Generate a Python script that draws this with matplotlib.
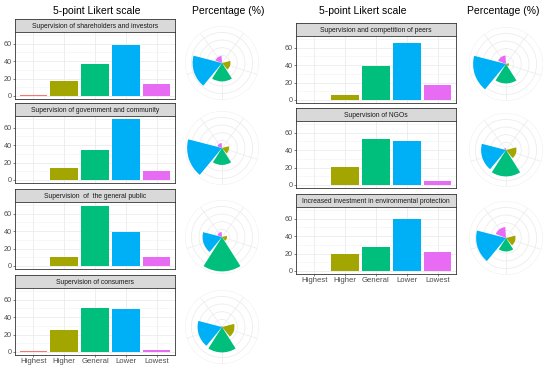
import numpy as np
import matplotlib.pyplot as plt

plt.rcParams['font.family'] = ['Liberation Sans', 'DejaVu Sans']

levels = ['Highest', 'Higher', 'General', 'Lower', 'Lowest']
colors = ['#F8766D', '#A3A500', '#00BF7D', '#00B0F6', '#E76BF3']

left_titles = ['Supervision of shareholders and investors',
               'Supervision of government and community',
               'Supervision  of  the general public',
               'Supervision of consumers']
left_counts = [[1, 17, 37, 59, 14],
               [0, 14, 34, 70, 10],
               [0, 10, 69, 39, 10],
               [1, 25, 51, 49, 2]]

right_titles = ['Supervision and competition of peers',
                'Supervision of NGOs',
                'Increased investment in environmental protection']
right_counts = [[0, 6, 39, 66, 17],
                [0, 21, 53, 50, 4],
                [0, 19, 27, 60, 22]]

W, H = 550, 373
fig = plt.figure(figsize=(W / 100, H / 100), dpi=100)


def rect(x0, y0, x1, y1):
    return [x0 / W, 1 - y1 / H, (x1 - x0) / W, (y1 - y0) / H]


def bar_panel(x0, x1, top, title, counts, bottom_labels):
    # strip
    sa = fig.add_axes(rect(x0, top, x1, top + 13))
    sa.set_facecolor('#D9D9D9')
    sa.set_xticks([])
    sa.set_yticks([])
    for s in sa.spines.values():
        s.set_color('#333333')
        s.set_linewidth(0.6)
    sa.text(0.5, 0.45, title, ha='center', va='center', fontsize=4.9,
            color='#1A1A1A', transform=sa.transAxes)
    # panel
    ax = fig.add_axes(rect(x0, top + 13, x1, top + 80))
    x = np.arange(len(levels))
    ax.bar(x, counts, width=0.9, color=colors, zorder=3)
    ax.set_xlim(-0.6, 4.6)
    ax.set_ylim(-3.5, 73.5)
    ax.set_yticks([0, 20, 40, 60])
    ax.set_yticks([10, 30, 50, 70], minor=True)
    ax.set_xticks(x)
    ax.grid(True, which='major', color='#EBEBEB', linewidth=0.6, zorder=0)
    ax.grid(True, which='minor', axis='y', color='#F2F2F2', linewidth=0.4, zorder=0)
    ax.tick_params(axis='both', which='major', labelsize=5.2, colors='#4D4D4D',
                   length=1.5, width=0.5, pad=1)
    ax.tick_params(which='minor', length=0)
    if bottom_labels:
        ax.set_xticklabels(levels, fontsize=5.6)
    else:
        ax.tick_params(axis='x', length=0, labelbottom=False)
    for s in ax.spines.values():
        s.set_color('#333333')
        s.set_linewidth(0.6)


def rose(cx, cy, counts, r=37):
    ax = fig.add_axes(rect(cx - r, cy - r, cx + r, cy + r), projection='polar')
    ax.set_theta_zero_location('N')
    ax.set_theta_direction(-1)
    step = 2 * np.pi / len(levels)
    theta = step * (np.arange(len(levels)) + 0.5)
    pct = np.array(counts) / sum(counts) * 100
    ax.bar(theta, pct, width=0.9 * step, color=colors, zorder=3)
    ax.set_ylim(0, 58)
    ax.set_yticks([12, 24, 36, 48, 58])
    ax.set_yticklabels([])
    ax.set_xticks(theta)
    ax.set_xticklabels([])
    ax.grid(True, color='#EDEDED', linewidth=0.6)
    ax.spines['polar'].set_visible(False)
    ax.tick_params(length=0)


# left column
fig.text(97 / W, 1 - 11 / H, '5-point Likert scale', ha='center', va='center', fontsize=7.5)
fig.text(228 / W, 1 - 11 / H, 'Percentage (%)', ha='center', va='center', fontsize=7.5)
left_tops = [19, 103, 189, 275]
left_centers = [63, 148, 237, 327]
for i in range(4):
    bar_panel(15, 175, left_tops[i], left_titles[i], left_counts[i], i == 3)
    rose(222, left_centers[i], left_counts[i])

# right column
fig.text(363 / W, 1 - 11 / H, '5-point Likert scale', ha='center', va='center', fontsize=7.5)
fig.text(503 / W, 1 - 11 / H, 'Percentage (%)', ha='center', va='center', fontsize=7.5)
right_tops = [23, 108, 194]
right_centers = [64, 150, 238]
for i in range(3):
    bar_panel(296, 456, right_tops[i], right_titles[i], right_counts[i], i == 2)
    rose(506, right_centers[i], right_counts[i])

plt.savefig('out.png', dpi=100)
